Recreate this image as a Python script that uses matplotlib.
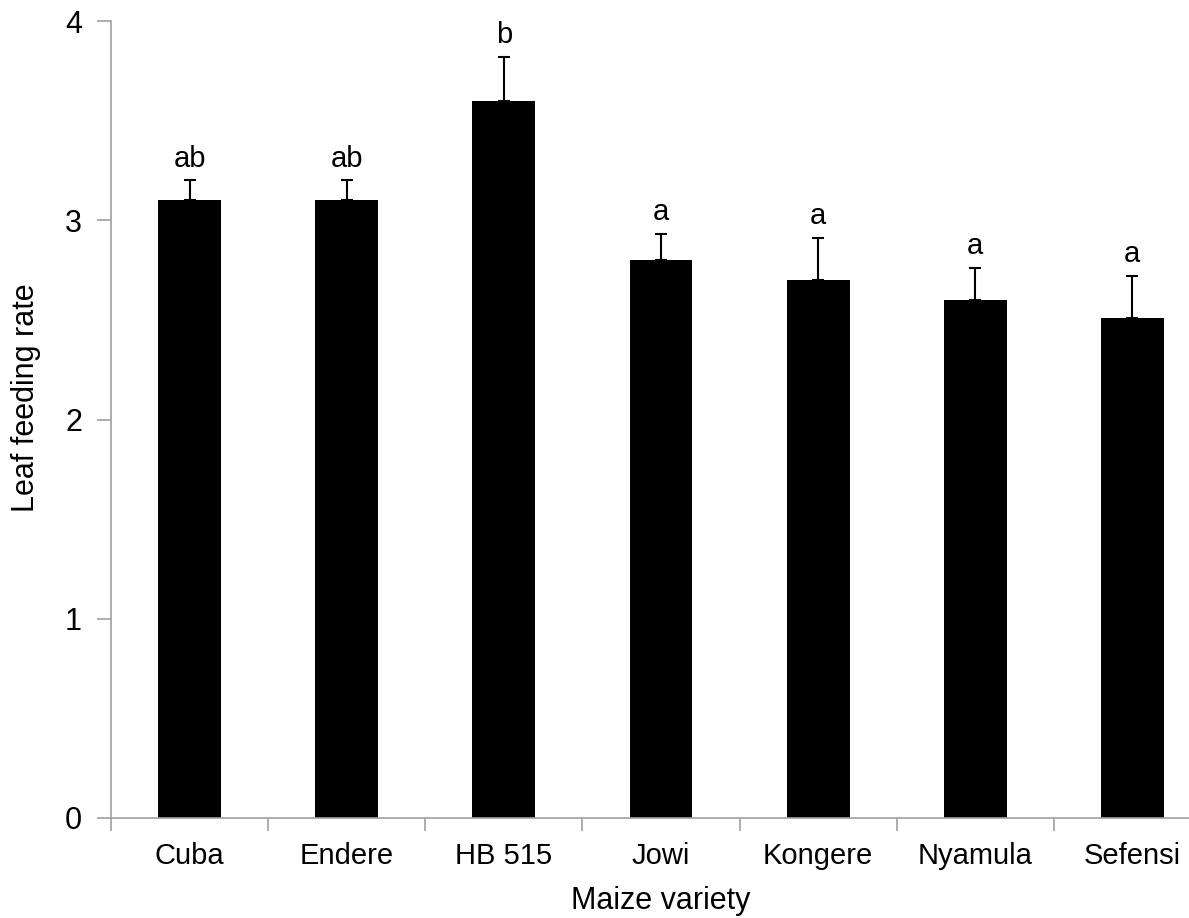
import matplotlib.pyplot as plt
import numpy as np

plt.rcParams["font.family"] = ["Liberation Sans", "DejaVu Sans"]

varieties = ["Cuba", "Endere", "HB 515", "Jowi", "Kongere", "Nyamula", "Sefensi"]
feeding = [3.1, 3.1, 3.6, 2.8, 2.7, 2.6, 2.51]
se = [0.1, 0.1, 0.22, 0.13, 0.21, 0.16, 0.21]
letters = ["ab", "ab", "b", "a", "a", "a", "a"]

fig = plt.figure(figsize=(11.89, 9.18), dpi=100)
ax = fig.add_axes([0.0934, 0.109, 0.925, 0.868])

x = np.arange(len(varieties))
ax.bar(x, feeding, width=0.4, color="black", zorder=2)
ax.errorbar(x, feeding, yerr=[np.zeros(len(se)), se], fmt="none",
            ecolor="black", elinewidth=1.5, capsize=4, capthick=1.5, zorder=3)

for i in range(len(x)):
    ax.text(x[i], feeding[i] + se[i] + 0.04, letters[i], ha="center", va="bottom", fontsize=21)

ax.set_xlim(-0.5, len(x) - 0.5)
ax.set_ylim(0, 4)
ax.set_yticks([0, 1, 2, 3, 4])
ax.set_xticks(x)
ax.set_xticklabels(varieties, fontsize=21)
ax.set_xticks(np.arange(len(x) + 1) - 0.5, minor=True)
ax.tick_params(axis="x", which="major", length=0, pad=17)
ax.tick_params(axis="x", which="minor", length=9, color="#a0a0a0", width=1.2)
ax.tick_params(axis="y", length=10, color="#a0a0a0", width=1.2, labelsize=22, pad=11)

for s in ["top", "right"]:
    ax.spines[s].set_visible(False)
for s in ["left", "bottom"]:
    ax.spines[s].set_color("#a0a0a0")
    ax.spines[s].set_linewidth(1.2)

ax.set_ylabel("Leaf feeding rate", fontsize=22)
ax.yaxis.set_label_coords(-0.064, 0.527)
ax.set_xlabel("Maize variety", fontsize=22, labelpad=12)

fig.savefig("out.png", dpi=100)
